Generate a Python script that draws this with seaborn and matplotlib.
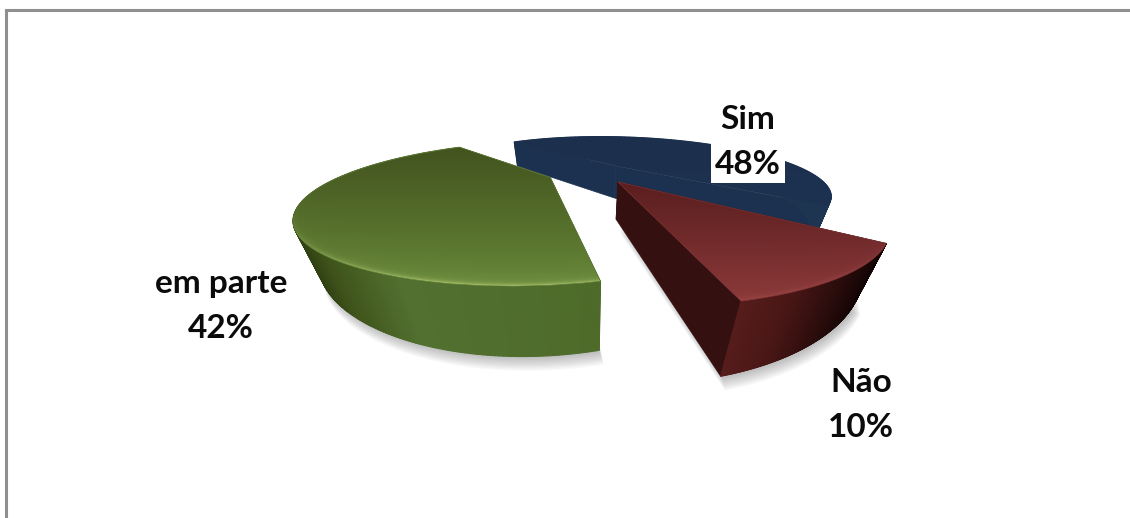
import numpy as np
import matplotlib
matplotlib.use("Agg")
import matplotlib.pyplot as plt
import seaborn as sns
from matplotlib.transforms import Transform
from matplotlib.collections import PolyCollection
from matplotlib.colors import to_rgb

categories = ["Sim", "Não", "em parte"]
values = [48, 10, 42]

# camera (world pie plane -> pixels)
X0, YH, FX, FY, DEPTH_T = 565.0, 70.0, 409.0, 300.0, 100.0
NADIR_X, NADIR_K = 590.0, 0.135 / 75.0
PIE_CENTER, PIE_RADIUS, EXPLODE, START = (0.185, 2.926), 1.38, 0.285, 131
# per-slice screen adjustment: ref x, ref y, x scale, x shear, y scale
tweak = [(0, 0, 0, 0, 0), (570, 182, 0.0625, -0.23, 0.05), (600, 168.8, 0.05, -0.263, 0.04)]

top_back = ["#1c304e", "#5a1e1f", "#43541f"]
top_front = ["#1c3250", "#8a3838", "#648436"]
top_rim = ["#1c3250", "#a04a4a", "#c0d880"]
top_span = [(138, 206), (182, 301), (149, 283)]
radial_col = ["#1c314f", "#341110", "#3a4d1a"]
edge_width = [0.0, 0.5, 0.5]
outer_x = [[520, 830], [725, 790, 885], [290, 325, 400, 600]]
outer_cols = [["#1c314f", "#1e3552"],
              ["#5a1e1e", "#4a1716", "#120404"],
              ["#2a3a10", "#3e5219", "#527030", "#4e6b2a"]]
label_pos = [(748, 142), (861, 405), (221, 306)]
draw_order = [0, 2, 1]


def adjust(pts, i):
    rx, ry, a, b, c = tweak[i]
    x, y = pts[:, 0], pts[:, 1]
    return np.column_stack([x + a * (x - rx) + b * (y - ry), y + c * (y - ry)])


class Proj(Transform):
    input_dims = output_dims = 2
    is_affine = False

    def __init__(self, i):
        super().__init__()
        self.i = i

    def transform_non_affine(self, xy):
        xy = np.asarray(xy, float)
        d = xy[:, 1]
        return adjust(np.column_stack([X0 + FX * xy[:, 0] / d, YH + FY / d]), self.i)


def proj3(X, D, z, i):
    X = np.atleast_1d(X); D = np.atleast_1d(D)
    p = adjust(np.column_stack([X0 + FX * X / D, YH + FY / D]), i)
    t = DEPTH_T / D * z
    return np.column_stack([p[:, 0] - (p[:, 0] - NADIR_X) * NADIR_K * t, p[:, 1] + t])


def unadjust(px, py, i):
    rx, ry, a, b, c = tweak[i]
    y = (py + c * ry) / (1 + c)
    x = (px + a * rx - b * (y - ry)) / (1 + a)
    return x, y


sns.set_theme(style="white")
plt.rcParams["font.family"] = ["Lato", "DejaVu Sans"]

fig = plt.figure(figsize=(11.3, 5.18), dpi=100, facecolor="white")
ax = fig.add_axes([0, 0, 1, 1])
wedges, _ = ax.pie(values, explode=[EXPLODE] * 3, radius=PIE_RADIUS, center=PIE_CENTER,
                   startangle=START, counterclock=False, frame=False)
ax.set_aspect("auto")
ax.axis("off")

yy, xx = np.mgrid[0:518, 0:1130] + 0.5


def arc(w, n=240):
    th = np.radians(np.linspace(w.theta1, w.theta2, n))
    return w.center[0] + w.r * np.cos(th), w.center[1] + w.r * np.sin(th)


def outline(w, z, i):
    ax_, ay_ = arc(w)
    return proj3(np.r_[w.center[0], ax_], np.r_[w.center[1], ay_], z, i)


# soft ground shadow
for i in [2, 1]:
    poly = outline(wedges[i], 1.0, i)
    for k in range(1, 13):
        ax.fill(poly[:, 0] + 2 + 0.2 * k, poly[:, 1] + 1.2 * k, color="#555555", alpha=0.035,
                lw=0, zorder=1)

z = 2
for i in draw_order:
    w = wedges[i]
    cx, cy = w.center
    # radial faces
    for th in (w.theta1, w.theta2):
        ex = cx + w.r * np.cos(np.radians(th))
        ey = cy + w.r * np.sin(np.radians(th))
        quad = np.vstack([proj3(cx, cy, 0, i), proj3(ex, ey, 0, i), proj3(ex, ey, 1, i), proj3(cx, cy, 1, i)])
        ax.fill(quad[:, 0], quad[:, 1], color=radial_col[i], lw=0.5, zorder=z)
    z += 1
    # outer face
    ax_, ay_ = arc(w)
    t = proj3(ax_, ay_, 0.0, i); b = proj3(ax_, ay_, 1.0, i)
    quads = [np.array([t[j], t[j + 1], b[j + 1], b[j]]) for j in range(len(t) - 1)]
    rgb = np.array(sns.color_palette(outer_cols[i]))
    mids = 0.5 * (t[:-1, 0] + t[1:, 0])
    fc = np.column_stack([np.interp(mids, outer_x[i], rgb[:, c]) for c in range(3)])
    ax.add_collection(PolyCollection(quads, facecolors=fc, edgecolors=fc, linewidths=0.8, zorder=z))
    z += 1
    # top face with gradient + rim highlight
    y0, y1 = top_span[i]
    f = np.clip((yy - y0) / (y1 - y0), 0, 1)[..., None]
    back, front, rim = (np.array(to_rgb(c)) for c in (top_back[i], top_front[i], top_rim[i]))
    col = back + (front - back) * f
    ux, uy = unadjust(xx, yy, i)
    dd = FY / np.maximum(uy - YH, 1.0)
    XX = (ux - X0) * dd / FX
    dist = np.hypot(XX - cx, dd - cy)
    rel = dist / w.r
    facing = np.clip(-(dd - cy) / np.maximum(dist, 1e-6), 0, 1) ** 4
    glow = (0.8 * np.exp((rel - 1) / 0.008) + 0.12 * np.exp((rel - 1) / 0.08)) * facing
    col = col + (rim - col) * np.clip(glow, 0, 1)[..., None]
    im = ax.imshow(col, extent=(0, 1130, 518, 0), aspect="auto", zorder=z, interpolation="bilinear")
    w.set_transform(Proj(i) + ax.transData)
    w.set_facecolor("none")
    w.set_edgecolor(front * 0.8 + back * 0.2)
    w.set_linewidth(edge_width[i])
    w.set_zorder(z + 1)
    im.set_clip_path(w)
    z += 2

ax.set_xlim(0, 1130)
ax.set_ylim(518, 0)

for name, val, (lx, ly) in zip(categories, values, label_pos):
    ax.text(lx, ly, f"{name}\n{val}%", ha="center", va="center", fontsize=24, fontweight="bold",
            color="#0b0b0b", linespacing=1.63, zorder=50,
            bbox=dict(facecolor="white", edgecolor="none", pad=3))

# chart frame: only the left and top edges fall inside the picture
ax.plot([6.2, 6.2, 1130], [518, 10.2, 10.2], color="#8f8f8f", lw=2.2, solid_joinstyle="miter",
        zorder=60, scalex=False, scaley=False)
fig.savefig("out.png", dpi=100)
